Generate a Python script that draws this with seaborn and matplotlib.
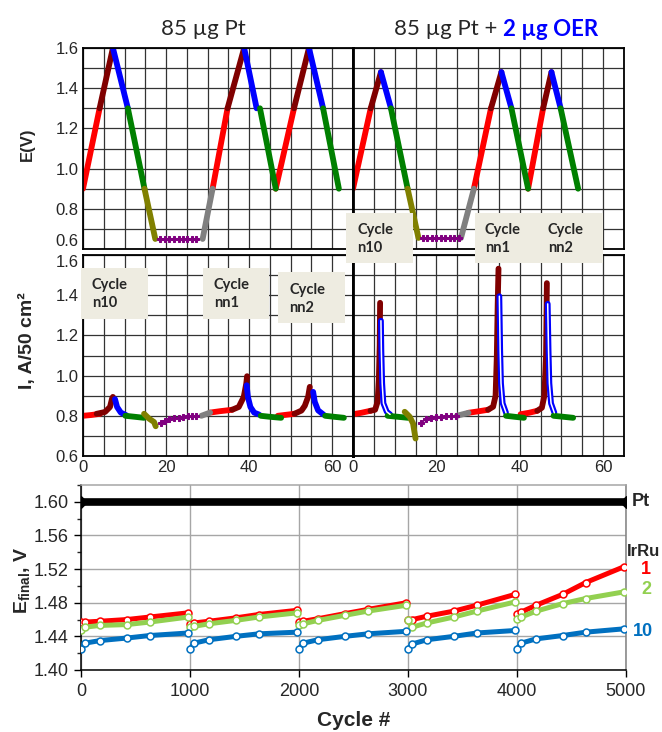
import numpy as np
import pandas as pd
import matplotlib
matplotlib.use("Agg")
import matplotlib.pyplot as plt
from matplotlib.patches import Rectangle
from matplotlib.ticker import MultipleLocator, FormatStrFormatter
import seaborn as sns

W, H = 662, 732

PHASE_COLORS = {"red": "#FF0000", "darkred": "#800000", "blue": "#0000FF",
                "green": "#008000", "olive": "#808000", "gray": "#808080"}
PURPLE = "#800080"

# ---- potential traces, E(V) vs time: (phase, t, E)
PT_E = [
    ("red",     [0.0, 4.0],   [0.90, 1.30]),
    ("darkred", [4.0, 7.2],   [1.30, 1.60]),
    ("blue",    [7.2, 10.8],  [1.60, 1.30]),
    ("green",   [10.8, 14.8], [1.30, 0.90]),
    ("olive",   [14.8, 17.4], [0.90, 0.65]),
    ("gray",    [28.8, 31.2], [0.65, 0.90]),
    ("red",     [31.2, 34.8], [0.90, 1.30]),
    ("darkred", [34.8, 38.8], [1.30, 1.60]),
    ("blue",    [38.8, 41.8], [1.60, 1.30]),
    ("green",   [42.6, 46.4], [1.30, 0.90]),
    ("red",     [46.4, 50.8], [0.90, 1.30]),
    ("darkred", [50.8, 54.4], [1.30, 1.60]),
    ("blue",    [54.4, 57.8], [1.60, 1.30]),
    ("green",   [57.8, 61.6], [1.30, 0.90]),
]
PT_E_HOLD_T = [18.6, 19.7, 20.8, 21.9, 23.0, 24.1, 25.1, 26.2, 27.2]
PT_E_HOLD_V = [0.65, 0.65, 0.65, 0.65, 0.65, 0.65, 0.65, 0.65, 0.65]

OER_E = [
    ("red",     [0.0, 4.25],  [0.90, 1.30]),
    ("darkred", [4.25, 6.7],  [1.30, 1.48]),
    ("blue",    [6.7, 9.1],   [1.48, 1.30]),
    ("green",   [9.1, 13.1],  [1.30, 0.90]),
    ("olive",   [13.1, 15.7], [0.90, 0.655]),
    ("gray",    [25.9, 29.0], [0.655, 0.90]),
    ("red",     [29.0, 33.1], [0.90, 1.30]),
    ("darkred", [33.1, 35.6], [1.30, 1.48]),
    ("blue",    [35.6, 38.0], [1.48, 1.30]),
    ("green",   [38.0, 42.0], [1.30, 0.90]),
    ("red",     [42.0, 45.6], [0.90, 1.30]),
    ("darkred", [45.6, 47.6], [1.30, 1.48]),
    ("blue",    [47.6, 49.8], [1.48, 1.30]),
    ("green",   [49.8, 54.0], [1.30, 0.90]),
]
OER_E_HOLD_T = [16.7, 17.8, 18.9, 19.9, 21.0, 22.1, 23.2, 24.3, 25.4]
OER_E_HOLD_V = [0.655, 0.655, 0.655, 0.655, 0.655, 0.655, 0.655, 0.655, 0.655]

# ---- current traces, I (A/50 cm2) vs time
PT_I = [
    ("red",     [0.0, 2.0, 4.1], [0.800, 0.804, 0.810]),
    ("darkred", [3.3, 5.3, 6.5, 7.0, 7.2], [0.810, 0.819, 0.844, 0.886, 0.894]),
    ("blue",    [7.7, 8.2, 9.1, 10.4], [0.883, 0.844, 0.816, 0.803]),
    ("green",   [10.2, 12.5, 14.7], [0.800, 0.795, 0.790]),
    ("olive",   [14.7, 15.9, 17.1, 17.5], [0.810, 0.786, 0.769, 0.748]),
    ("gray",    [28.5, 30.6], [0.800, 0.816]),
    ("red",     [30.6, 33.0, 35.9], [0.816, 0.823, 0.830]),
    ("darkred", [35.9, 37.5, 38.7, 39.3, 39.5], [0.830, 0.844, 0.894, 0.960, 0.997]),
    ("blue",    [39.4, 39.7, 40.3, 41.2, 42.4], [0.952, 0.894, 0.844, 0.816, 0.806]),
    ("green",   [42.8, 45.0, 47.7], [0.800, 0.795, 0.790]),
    ("red",     [46.9, 48.9, 50.9], [0.800, 0.805, 0.810]),
    ("darkred", [50.9, 52.6, 53.4, 54.2, 54.6], [0.810, 0.826, 0.850, 0.895, 0.944]),
    ("blue",    [55.4, 55.8, 56.6, 57.9], [0.919, 0.869, 0.827, 0.806]),
    ("green",   [58.3, 60.5, 62.8], [0.800, 0.795, 0.790]),
]
PT_I_HOLD_T = [18.7, 19.7, 20.8, 21.9, 23.0, 24.1, 25.2, 26.3, 27.3]
PT_I_HOLD_V = [0.766, 0.776, 0.783, 0.787, 0.791, 0.794, 0.797, 0.799, 0.800]

OER_I = [
    ("red",     [0.0, 2.0, 4.2], [0.808, 0.815, 0.825]),
    ("darkred", [4.2, 5.3, 5.9, 6.2, 6.4, 6.5], [0.825, 0.830, 0.870, 0.980, 1.150, 1.362]),
    ("blue",    [6.7, 6.8, 7.0, 7.3, 8.1, 8.9], [1.273, 1.128, 0.962, 0.862, 0.820, 0.807]),
    ("green",   [8.3, 10.8, 13.2], [0.800, 0.795, 0.790]),
    ("olive",   [12.4, 13.6, 14.4, 15.0], [0.820, 0.795, 0.762, 0.687]),
    ("gray",    [24.9, 27.7], [0.800, 0.815]),
    ("red",     [27.7, 30.0, 32.4], [0.815, 0.822, 0.830]),
    ("darkred", [32.4, 33.6, 34.2, 34.5, 34.7, 34.9], [0.830, 0.845, 0.900, 1.100, 1.350, 1.532]),
    ("blue",    [35.1, 35.3, 35.5, 35.9, 36.7], [1.395, 1.128, 0.962, 0.862, 0.815]),
    ("green",   [36.7, 38.8, 41.0], [0.800, 0.795, 0.790]),
    ("red",     [40.2, 42.2, 44.2], [0.808, 0.815, 0.825]),
    ("darkred", [44.2, 45.3, 45.9, 46.3, 46.5], [0.825, 0.840, 0.900, 1.100, 1.460]),
    ("blue",    [46.7, 46.9, 47.1, 47.5, 48.3], [1.357, 1.128, 0.962, 0.862, 0.815]),
    ("green",   [48.1, 50.5, 52.8], [0.800, 0.795, 0.790]),
]
OER_I_HOLD_T = [16.3, 17.5, 18.7, 19.9, 21.1, 22.3, 23.5, 24.6]
OER_I_HOLD_V = [0.765, 0.783, 0.790, 0.793, 0.795, 0.797, 0.798, 0.800]

TOP_YTICKS = [0.6, 0.8, 1.0, 1.2, 1.4, 1.6]

# ---- E_final vs cycle number
BLOCK_STARTS = [0, 1000, 2000, 3000, 4000]
BLOCK_OFFSETS = [0, 40, 175, 420, 630, 985]
IRRU1 = [
    [1.457, 1.457, 1.458, 1.460, 1.463, 1.468],
    [1.455, 1.456, 1.458, 1.462, 1.466, 1.471],
    [1.457, 1.458, 1.461, 1.467, 1.472, 1.480],
    [1.459, 1.460, 1.464, 1.470, 1.477, 1.490],
    [1.467, 1.469, 1.477, 1.490, 1.504, 1.523],
]
IRRU2 = [
    [1.447, 1.451, 1.453, 1.454, 1.457, 1.463],
    [1.451, 1.452, 1.455, 1.459, 1.463, 1.468],
    [1.453, 1.455, 1.459, 1.465, 1.470, 1.477],
    [1.459, 1.451, 1.456, 1.463, 1.470, 1.481],
    [1.461, 1.463, 1.470, 1.479, 1.485, 1.493],
]
IRRU10 = [
    [1.425, 1.432, 1.435, 1.438, 1.441, 1.444],
    [1.425, 1.432, 1.436, 1.440, 1.443, 1.445],
    [1.425, 1.432, 1.436, 1.440, 1.443, 1.446],
    [1.425, 1.431, 1.436, 1.440, 1.444, 1.447],
    [1.425, 1.432, 1.437, 1.441, 1.445, 1.449],
]
PT_CYCLES = [0, 5000]
PT_EFINAL = [1.60, 1.60]

sns.set_style("ticks")
plt.rcParams["font.family"] = ["Liberation Sans", "DejaVu Sans"]
plt.rcParams["mathtext.fontset"] = "custom"
plt.rcParams["mathtext.bf"] = "Liberation Sans:bold"
plt.rcParams["mathtext.rm"] = "Liberation Sans"

fig = plt.figure(figsize=(W / 100, H / 100), dpi=100)


def rect(x0, y0, x1, y1):
    return [x0 / W, 1 - y1 / H, (x1 - x0) / W, (y1 - y0) / H]


def seg_frame(segments):
    rows = []
    for k, (phase, ts, vs) in enumerate(segments):
        for t, v in zip(ts, vs):
            rows.append({"seg": k, "phase": phase, "t": t, "v": v})
    return pd.DataFrame(rows)


def draw_trace(ax, segments, hold_t, hold_v, hollow_blue=False):
    df = seg_frame(segments)
    pal = {p: PHASE_COLORS[p] for p in df["phase"].unique()}
    sns.lineplot(data=df, x="t", y="v", hue="phase", units="seg", estimator=None,
                 sort=False, palette=pal, lw=4.2, legend=False, ax=ax)
    if hollow_blue:
        for phase, ts, vs in segments:
            if phase == "blue":
                sns.lineplot(x=ts, y=vs, color="white", lw=1.1, sort=False,
                             estimator=None, ax=ax)
    sns.lineplot(x=hold_t, y=hold_v, color=PURPLE, lw=1.2, marker="P", ms=4.5,
                 mec=PURPLE, sort=False, estimator=None, ax=ax)


def style_top(ax, left, bottom):
    ax.set_xlim(0, 65)
    ax.set_ylim(0.6, 1.6)
    ax.xaxis.set_major_locator(MultipleLocator(20))
    ax.xaxis.set_minor_locator(MultipleLocator(5))
    ax.set_yticks(TOP_YTICKS)
    ax.yaxis.set_minor_locator(MultipleLocator(0.1))
    ax.yaxis.set_major_formatter(FormatStrFormatter("%.1f"))
    ax.grid(True, which="both", color="#333333", lw=0.9)
    ax.set_axisbelow(True)
    ax.tick_params(which="both", length=0, labelsize=12, pad=3)
    ax.tick_params(labelleft=left, labelbottom=bottom)
    for s in ax.spines.values():
        s.set_color("black")
        s.set_linewidth(1.3)
    ax.spines["right" if left else "left"].set_linewidth(2.0)
    ax.set_xlabel("")
    ax.set_ylabel("")
    # keep the 0.6 / 1.6 labels of the stacked panels apart
    ticks = ax.yaxis.get_major_ticks()
    if bottom:
        ticks[-1].label1.set_verticalalignment("top")
    else:
        ticks[0].label1.set_verticalalignment("bottom")


ax_e_pt = fig.add_axes(rect(83, 48, 353, 249))
ax_e_oer = fig.add_axes(rect(353, 48, 624, 249))
ax_i_pt = fig.add_axes(rect(83, 255, 353, 456))
ax_i_oer = fig.add_axes(rect(353, 255, 624, 456))
ax_cyc = fig.add_axes(rect(81, 485, 626, 670))

draw_trace(ax_e_pt, PT_E, PT_E_HOLD_T, PT_E_HOLD_V)
draw_trace(ax_e_oer, OER_E, OER_E_HOLD_T, OER_E_HOLD_V)
draw_trace(ax_i_pt, PT_I, PT_I_HOLD_T, PT_I_HOLD_V)
draw_trace(ax_i_oer, OER_I, OER_I_HOLD_T, OER_I_HOLD_V, hollow_blue=True)

style_top(ax_e_pt, True, False)
style_top(ax_e_oer, False, False)
style_top(ax_i_pt, True, True)
style_top(ax_i_oer, False, True)

# ---- bottom panel
rows = []
for name, blocks in [("1", IRRU1), ("2", IRRU2), ("10", IRRU10)]:
    for b, (start, vals) in enumerate(zip(BLOCK_STARTS, blocks)):
        for off, v in zip(BLOCK_OFFSETS, vals):
            rows.append({"series": name, "block": b, "cycle": start + off, "E": v})
cyc = pd.DataFrame(rows)
SERIES_COLORS = {"1": "#FF0000", "2": "#92D050", "10": "#0070C0"}

sns.lineplot(x=PT_CYCLES, y=PT_EFINAL, color="black", lw=5.5, marker="D", ms=6,
             mec="black", ax=ax_cyc, zorder=3)
for name in ["1", "2", "10"]:
    col = SERIES_COLORS[name]
    sns.lineplot(data=cyc[cyc["series"] == name], x="cycle", y="E", units="block",
                 estimator=None, sort=False, color=col, lw=3.6, marker="o", ms=5,
                 mfc="white", mec=col, mew=1.1, ax=ax_cyc, zorder=3)

ax_cyc.set_xlim(0, 5000)
ax_cyc.set_ylim(1.40, 1.62)
ax_cyc.xaxis.set_major_locator(MultipleLocator(1000))
ax_cyc.yaxis.set_major_locator(MultipleLocator(0.04))
ax_cyc.yaxis.set_minor_locator(MultipleLocator(0.02))
ax_cyc.yaxis.set_major_formatter(FormatStrFormatter("%.2f"))
ax_cyc.grid(True, which="major", color="#A6A6A6", lw=1.0)
ax_cyc.set_axisbelow(True)
ax_cyc.tick_params(axis="both", which="major", direction="out", length=5, width=1,
                   labelsize=13, pad=4, color="black")
ax_cyc.tick_params(axis="y", which="minor", direction="out", length=3, width=1)
ax_cyc.spines["left"].set_color("black")
ax_cyc.spines["bottom"].set_color("black")
ax_cyc.spines["top"].set_color("#A6A6A6")
ax_cyc.spines["right"].set_color("#808080")
for s in ax_cyc.spines.values():
    s.set_linewidth(1.1)
ax_cyc.set_xlabel("")
ax_cyc.set_ylabel("")

# ---- titles and axis labels
def ftext(x, y, s, **kw):
    fig.text(x / W, 1 - y / H, s, **kw)


ftext(203, 29, "85 µg Pt", ha="center", va="center", fontsize=16, family="Lato")
ftext(497, 29, "85 µg Pt +", ha="right", va="center", fontsize=16, family="Lato")
ftext(503, 29, "2 µg OER", ha="left", va="center", fontsize=16, family="Lato",
      weight="bold", color="#0000FF")
ftext(27, 144, "E(V)", rotation=90, ha="center", va="center", fontsize=12, weight="bold")
ftext(27, 341, "I, A/50 cm²", rotation=90, ha="center", va="center", fontsize=14,
      weight="bold")
ftext(22, 580, r"$\mathbf{E_{final}}$, V", rotation=90, ha="center", va="center",
      fontsize=14, weight="bold")
ftext(354, 721, "Cycle #", ha="center", va="center", fontsize=15, weight="bold")

ftext(632, 502, "Pt", ha="left", va="center", fontsize=13, weight="bold")
ftext(627, 552, "IrRu", ha="left", va="center", fontsize=12, weight="bold")
ftext(646, 569, "1", ha="center", va="center", fontsize=13, weight="bold", color="#FF0000")
ftext(646, 589, "2", ha="center", va="center", fontsize=13, weight="bold", color="#92D050")
ftext(643, 632, "10", ha="center", va="center", fontsize=13, weight="bold", color="#0070C0")

# ---- "Cycle" call-out boxes
BOX = "#EEECE1"
for (x0, y0, x1, y1) in [(81, 268, 148, 319), (203, 268, 269, 319), (278, 272, 345, 323),
                         (346, 213, 413, 263), (475, 213, 603, 263)]:
    fig.add_artist(Rectangle((x0 / W, 1 - y1 / H), (x1 - x0) / W, (y1 - y0) / H,
                             transform=fig.transFigure, facecolor=BOX,
                             edgecolor="none", zorder=5))
for (x, y, s) in [(92, 294, "Cycle\nn10"), (214, 294, "Cycle\nnn1"), (289, 299, "Cycle\nnn2"),
                  (357, 239, "Cycle\nn10"), (485, 239, "Cycle\nnn1"), (548, 239, "Cycle\nnn2")]:
    ftext(x, y, s, ha="left", va="center", fontsize=10.5, weight="bold", family="Lato",
          linespacing=1.45, zorder=6)

fig.savefig("out.png", dpi=100)
